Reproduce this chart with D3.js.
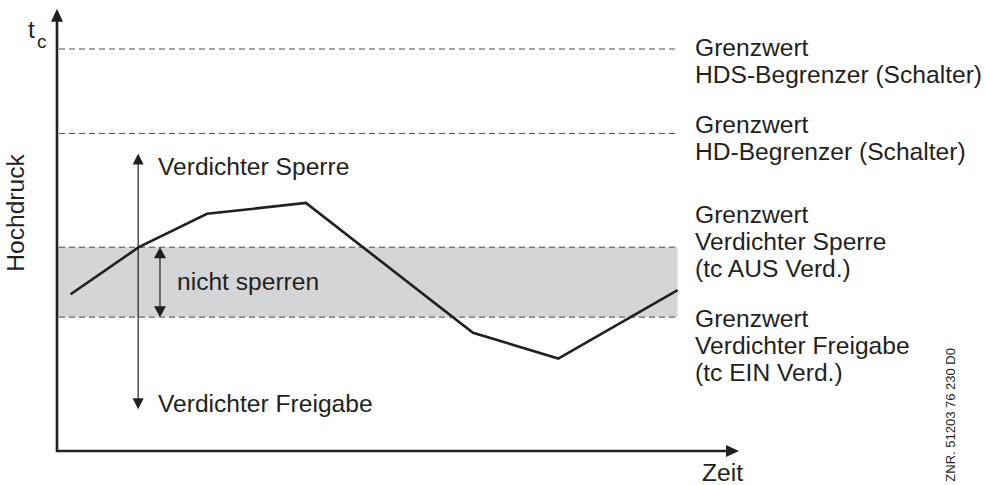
<!DOCTYPE html>
<html>
<head>
<meta charset="utf-8">
<title>Hochdruck Grenzwerte</title>
<style type="text/css">
body { margin: 0; background: #fff; }
svg text { font-family: "Liberation Sans", Arial, sans-serif; fill: #231f20; }
.curve { fill: none; stroke: #231f20; stroke-width: 2.6; }
.axis-line { fill: none; stroke: #231f20; stroke-width: 2.6; }
.limit { stroke: #4a4a4a; stroke-width: 1; stroke-dasharray: 6,4; }
.band { fill: #d4d5d7; }
.hint { stroke: #231f20; stroke-width: 1.2; }
.head { fill: #231f20; }
</style>
</head>
<body>
<div id="chart"></div>
<script src="https://d3js.org/d3.v7.min.js"></script>
<script>

// curve: time and high pressure (abstract units)
var zeit = [2, 12, 22, 36.5, 61, 73.5, 91];
var druck = [39, 50.7, 59, 61.7, 29.4, 23, 40];

// limit values: HDS, HD, Verdichter Sperre, Verdichter Freigabe
var grenzwerte = [100, 79, 50.7, 33.3];
var grenzLabels = [
  ["Grenzwert", "HDS-Begrenzer (Schalter)"],
  ["Grenzwert", "HD-Begrenzer (Schalter)"],
  ["Grenzwert", "Verdichter Sperre", "(tc AUS Verd.)"],
  ["Grenzwert", "Verdichter Freigabe", "(tc EIN Verd.)"]
];
var zeitEnde = 91;

var width = 985, height = 485;
var fs = "24.6px";

var x = d3.scaleLinear().domain([0, 100]).range([57, 739]);
var y = d3.scaleLinear().domain([0, 100]).range([451, 49]);

var svg = d3.select("#chart").append("svg")
    .attr("width", width)
    .attr("height", height);

// draws a filled arrow head with its tip at (tx,ty), pointing in direction (dx,dy)
function head(tx, ty, dx, dy, len, w) {
  var px = -dy, py = dx;
  var bx = tx - dx * len, by = ty - dy * len;
  svg.append("path")
      .attr("class", "head")
      .attr("d", "M" + tx + "," + ty +
        "L" + (bx + px * w / 2) + "," + (by + py * w / 2) +
        "L" + (bx - px * w / 2) + "," + (by - py * w / 2) + "Z");
}

// band between Sperre and Freigabe
svg.append("rect")
    .attr("class", "band")
    .attr("x", x(0))
    .attr("y", y(grenzwerte[2]))
    .attr("width", x(zeitEnde) - x(0))
    .attr("height", y(grenzwerte[3]) - y(grenzwerte[2]));

// dashed limit lines
svg.selectAll(".limit")
    .data(grenzwerte)
  .enter().append("line")
    .attr("class", "limit")
    .attr("x1", x(0) + 2)
    .attr("x2", x(zeitEnde))
    .attr("y1", function(d) { return y(d); })
    .attr("y2", function(d) { return y(d); });

// axes with arrows
var yTop = y(110), xEnd = x(100);
svg.append("path")
    .attr("class", "axis-line")
    .attr("d", "M" + x(0) + "," + (yTop + 12) + "L" + x(0) + "," + y(0) + "L" + (xEnd - 12) + "," + y(0));
head(x(0), yTop, 0, -1, 13, 12);
head(xEnd, y(0), 1, 0, 13, 12);

// curve
var line = d3.line()
    .x(function(d, i) { return x(zeit[i]); })
    .y(function(d) { return y(d); });

svg.append("path")
    .datum(druck)
    .attr("class", "curve")
    .attr("d", line);

// hint arrows: up (Sperre) / down (Freigabe)
var hx = x(11.9);
svg.append("line").attr("class", "hint")
    .attr("x1", hx).attr("x2", hx)
    .attr("y1", y(74) + 10).attr("y2", y(10.4) - 10);
head(hx, y(74), 0, -1, 11, 11);
head(hx, y(10.4), 0, 1, 11, 11);

// double arrow inside band
var bx = x(15.1);
svg.append("line").attr("class", "hint")
    .attr("x1", bx).attr("x2", bx)
    .attr("y1", y(grenzwerte[2]) + 10).attr("y2", y(grenzwerte[3]) - 10);
head(bx, y(grenzwerte[2]), 0, -1, 11, 12);
head(bx, y(grenzwerte[3]), 0, 1, 11, 12);

// texts
svg.append("text").attr("x", 158).attr("y", 175).style("font-size", fs).text("Verdichter Sperre");
svg.append("text").attr("x", 177).attr("y", 290).style("font-size", fs).text("nicht sperren");
svg.append("text").attr("x", 158).attr("y", 412).style("font-size", fs).text("Verdichter Freigabe");

var tc = svg.append("text").attr("x", 28).attr("y", 38).style("font-size", fs);
tc.append("tspan").text("t");
tc.append("tspan").attr("x", 37).attr("y", 48).style("font-size", "19px").text("c");

svg.append("text")
    .attr("transform", "translate(24,213) rotate(-90)")
    .attr("text-anchor", "middle")
    .style("font-size", fs)
    .text("Hochdruck");

svg.append("text").attr("x", 702).attr("y", 481).style("font-size", fs).text("Zeit");

svg.append("text")
    .attr("transform", "translate(955,348) rotate(-90)")
    .attr("text-anchor", "end")
    .style("font-size", "13px")
    .text("ZNR. 51203 76 230 D0");

// right hand labels
var labelY = [56, 133, 223, 327];
grenzLabels.forEach(function(lines, k) {
  var t = svg.append("text").attr("x", 695).attr("y", labelY[k]).style("font-size", fs);
  lines.forEach(function(s, j) {
    t.append("tspan").attr("x", 695).attr("y", labelY[k] + j * 27).text(s);
  });
});

</script>
</body>
</html>
